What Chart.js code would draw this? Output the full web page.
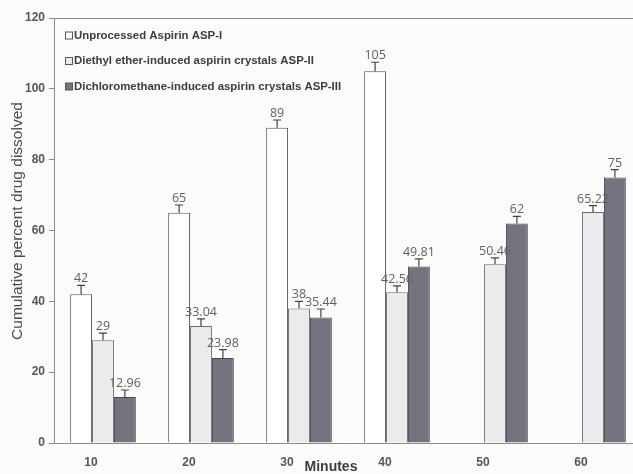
<!DOCTYPE html>
<html>
<head>
<meta charset="utf-8">
<script src="https://cdn.jsdelivr.net/npm/chart.js@4.4.1/dist/chart.umd.min.js"></script>
<style>
  html, body { margin: 0; padding: 0; background: #fbfbfa; overflow: hidden; }
  #wrap { position: relative; width: 642px; height: 474px; }
</style>
</head>
<body>
<div id="wrap"><canvas id="chart"></canvas></div>
<script>
// dissolution data
const minutes = ['10', '20', '30', '40', '50', '60'];
const aspI = [42, 65, 89, 105, null, null];
const aspII = [29, 33.04, 38, 42.56, 50.46, 65.22];
const aspIII = [12.96, 23.98, 35.44, 49.81, 62, 75];
const errI = [2.5, 2.2, 2.2, 2.5, null, null];
const errII = [2, 2, 2, 1.8, 1.8, 1.8];
const errIII = [2, 2.4, 2.4, 2.2, 2, 2.2];
const valueLabels = [
    ['42', '65', '89', '105', '', ''],
    ['29', '33.04', '38', '42.56', '50.46', '65.22'],
    ['12.96', '23.98', '35.44', '49.81', '62', '75']
];
const yTicks = [0, 20, 40, 60, 80, 100, 120];
const xTitle = 'Minutes';
const yTitle = 'Cumulative percent drug dissolved';

const errors = [errI, errII, errIII];
const axisColor = '#8a8a90';
const textColor = '#555';

// error bars + value labels on top of each bar
const barExtras = {
    id: 'barExtras',
    afterDatasetsDraw(chart) {
        const ctx = chart.ctx;
        const y = chart.scales.y;
        ctx.save();
        chart.data.datasets.forEach((ds, i) => {
            const meta = chart.getDatasetMeta(i);
            meta.data.forEach((bar, j) => {
                const v = ds.data[j];
                if (v === null) return;
                const err = errors[i][j] || 0;
                const top = y.getPixelForValue(v + err);
                ctx.strokeStyle = '#444';
                ctx.lineWidth = 1.2;
                ctx.beginPath();
                ctx.moveTo(bar.x, bar.y);
                ctx.lineTo(bar.x, top);
                ctx.moveTo(bar.x - 4, top);
                ctx.lineTo(bar.x + 4, top);
                ctx.stroke();
                ctx.fillStyle = '#5f5f66';
                ctx.font = '12.5px "Open Sans"';
                ctx.textAlign = 'center';
                ctx.textBaseline = 'alphabetic';
                ctx.fillText(valueLabels[i][j], bar.x, top - 3);
            });
        });
        ctx.restore();
    }
};

// top frame line, axis titles and legend inside the plot
const frameAndLegend = {
    id: 'frameAndLegend',
    afterDraw(chart) {
        const ctx = chart.ctx;
        const a = chart.chartArea;
        ctx.save();
        ctx.strokeStyle = axisColor;
        ctx.lineWidth = 1;
        ctx.beginPath();
        ctx.moveTo(a.left, a.top + 0.5);
        ctx.lineTo(a.right, a.top + 0.5);
        ctx.stroke();

        // axis titles
        ctx.fillStyle = '#3c3c3c';
        ctx.textAlign = 'center';
        ctx.textBaseline = 'middle';
        ctx.font = 'bold 14px "Liberation Sans"';
        ctx.fillText(xTitle, 331, 467);
        ctx.save();
        ctx.translate(18, 221);
        ctx.rotate(-Math.PI / 2);
        ctx.fillStyle = '#4a4a4a';
        ctx.font = '15.5px "Liberation Sans"';
        ctx.fillText(yTitle, 0, 0);
        ctx.restore();

        // legend
        ctx.font = 'bold 11.4px "Liberation Sans"';
        ctx.textBaseline = 'middle';
        ctx.textAlign = 'left';
        chart.data.datasets.forEach((ds, i) => {
            const ly = a.top + 17.5 + i * 25.5;
            ctx.fillStyle = ds.backgroundColor;
            ctx.fillRect(65.5, ly - 3.5, 7, 7);
            ctx.strokeStyle = '#555';
            ctx.strokeRect(65.5, ly - 3.5, 7, 7);
            ctx.fillStyle = '#3c3c3c';
            ctx.fillText(ds.label, 74, ly);
        });
        ctx.restore();
    }
};

new Chart(document.getElementById('chart'), {
    type: 'bar',
    data: {
        labels: minutes,
        datasets: [{
            label: 'Unprocessed Aspirin ASP-I',
            data: aspI,
            backgroundColor: '#ffffff',
            borderColor: '#55555f',
            borderWidth: 1
        }, {
            label: 'Diethyl ether-induced aspirin crystals ASP-II',
            data: aspII,
            backgroundColor: '#ebebee',
            borderColor: '#6a6a74',
            borderWidth: 1
        }, {
            label: 'Dichloromethane-induced aspirin crystals ASP-III',
            data: aspIII,
            backgroundColor: '#74737f',
            borderColor: '#4a4a56',
            borderWidth: 1
        }]
    },
    options: {
        responsive: true,
        maintainAspectRatio: false,
        animation: false,
        layout: { padding: { top: 18, right: 0, left: 0, bottom: 0 } },
        datasets: {
            bar: { barPercentage: 1, categoryPercentage: 0.67, skipNull: false }
        },
        plugins: {
            legend: { display: false },
            tooltip: { enabled: false }
        },
        scales: {
            x: {
                grid: { display: false },
                border: { display: true, color: axisColor, width: 1 },
                ticks: {
                    color: textColor,
                    font: { family: 'Liberation Sans', size: 12, weight: 'bold' },
                    labelOffset: -12,
                    padding: 4
                },
                afterFit(scale) { scale.height = 31; }
            },
            y: {
                min: 0,
                max: 120,
                afterBuildTicks(scale) { scale.ticks = yTicks.map(v => ({ value: v })); },
                grid: {
                    drawOnChartArea: false,
                    drawTicks: true,
                    tickLength: 5,
                    color: axisColor
                },
                border: { display: true, color: axisColor, width: 1 },
                ticks: {
                    color: textColor,
                    font: { family: 'Liberation Sans', size: 12, weight: 'bold' },
                    padding: 4
                },
                afterFit(scale) { scale.width = 54; }
            }
        }
    },
    plugins: [barExtras, frameAndLegend]
});
</script>
</body>
</html>
